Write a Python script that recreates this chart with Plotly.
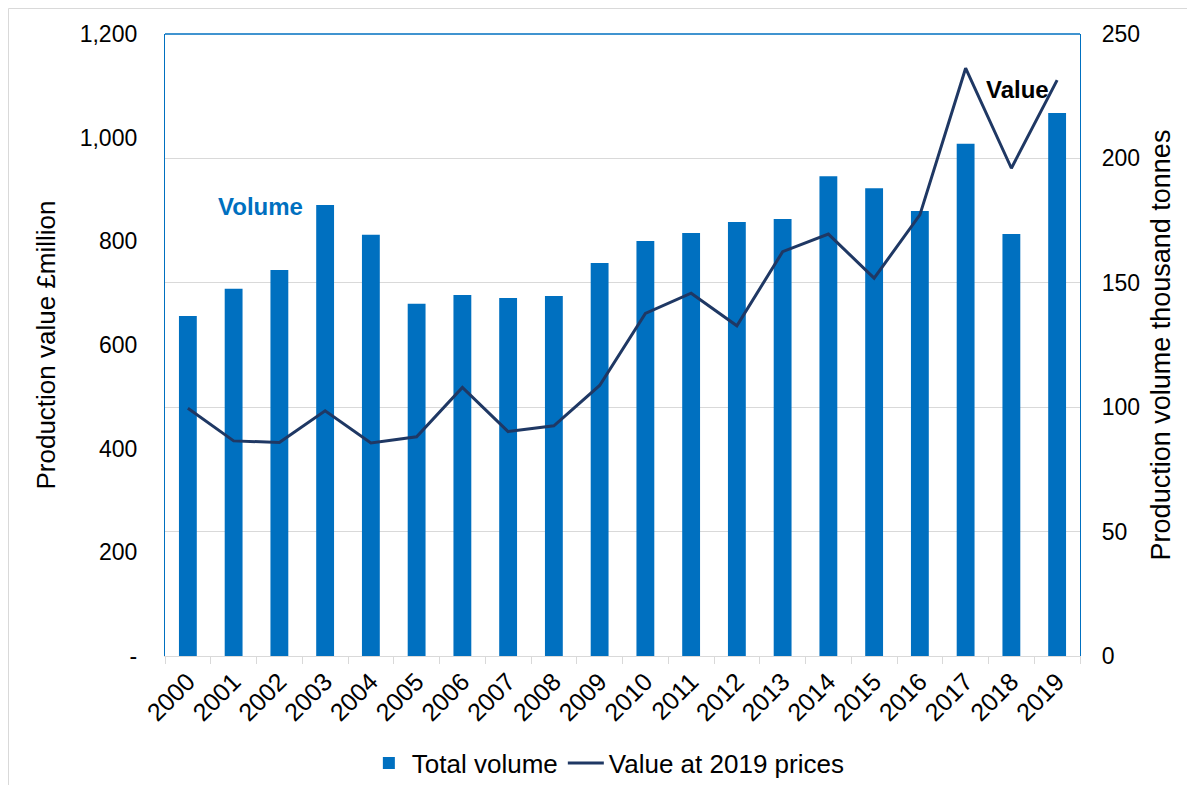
"""Production volume (bars) and value at 2019 prices (line), 2000-2019."""
import plotly.graph_objects as go

YEARS = [str(y) for y in range(2000, 2020)]

# thousand tonnes (right axis)
TOTAL_VOLUME = [
    136.7, 147.6, 155.1, 181.3, 169.3, 141.6, 145.1, 143.9, 144.7, 158.0,
    166.8, 170.0, 174.4, 175.6, 192.8, 188.0, 178.9, 205.9, 169.6, 218.2,
]

# £ million at 2019 prices (left axis)
VALUE_2019_PRICES = [
    478, 415, 412, 473, 411, 423, 518, 433, 444, 522,
    661, 700, 637, 780, 814, 729, 851, 1134, 941, 1111,
]

LEFT_TICKS = [0, 200, 400, 600, 800, 1000, 1200]
LEFT_TICKTEXT = ["-", "200", "400", "600", "800", "1,000", "1,200"]
RIGHT_TICKS = [0, 50, 100, 150, 200, 250]

BAR_BLUE = "#0070C0"
LINE_NAVY = "#1F3864"
GRID = "#d9d9d9"
FONT = "Liberation Sans, Arial, sans-serif"

# page body adds 8px margin, so the figure is 8px smaller than the window
W, H = 1187, 777
ML, MR, MT, MB = 157, 115, 26, 129

fig = go.Figure()

fig.add_trace(
    go.Bar(
        x=YEARS,
        y=TOTAL_VOLUME,
        name="Total volume",
        marker={"color": BAR_BLUE, "line": {"width": 0}},
        yaxis="y",
    )
)
fig.add_trace(
    go.Scatter(
        x=YEARS,
        y=VALUE_2019_PRICES,
        name="Value at 2019 prices",
        mode="lines",
        line={"color": LINE_NAVY, "width": 3},
        yaxis="y2",
    )
)

fig.add_annotation(
    text="<b>Volume</b>", xref="paper", yref="paper", x=0.104, y=0.722,
    xanchor="center", yanchor="middle", showarrow=False,
    font={"size": 24, "color": BAR_BLUE, "family": FONT},
)
fig.add_annotation(
    text="<b>Value</b>", xref="paper", yref="paper", x=0.932, y=0.91,
    xanchor="center", yanchor="middle", showarrow=False,
    font={"size": 24, "color": "#000000", "family": FONT},
)

pw = W - ML - MR
ph = H - MT - MB
# blue top edge of the plot area
fig.add_shape(
    type="line", xref="paper", yref="paper", x0=0, x1=1, y0=1, y1=1,
    line={"color": BAR_BLUE, "width": 1.3},
)
# faint outer chart border
fig.add_shape(
    type="rect", xref="paper", yref="paper",
    x0=-(ML - 0.5) / pw, x1=1 + (MR + 20) / pw,
    y0=-(MB + 20) / ph, y1=1 + (MT - 0.5) / ph,
    line={"color": GRID, "width": 1}, layer="below",
)

fig.update_layout(
    width=W,
    height=H,
    margin={"l": ML, "r": MR, "t": MT, "b": MB, "autoexpand": False},
    paper_bgcolor="#ffffff",
    plot_bgcolor="#ffffff",
    font={"family": FONT, "size": 23, "color": "#000000"},
    bargap=0.61,
    showlegend=True,
    legend={
        "orientation": "h",
        "x": 0.484,
        "xanchor": "center",
        "y": -0.172,
        "yanchor": "middle",
        "font": {"size": 26},
        "traceorder": "normal",
        "itemwidth": 36,
        "tracegroupgap": 0,
    },
    xaxis={
        "type": "category",
        "tickangle": -45,
        "showgrid": False,
        "showline": True,
        "linecolor": GRID,
        "linewidth": 1.3,
        "ticks": "outside",
        "tickson": "boundaries",
        "ticklen": 7,
        "tickcolor": GRID,
        "tickfont": {"size": 25},
    },
    yaxis={
        "side": "right",
        "range": [0, 250],
        "tickvals": RIGHT_TICKS,
        "showgrid": True,
        "gridcolor": GRID,
        "gridwidth": 1.2,
        "showline": True,
        "linecolor": BAR_BLUE,
        "linewidth": 1.3,
        "zeroline": False,
        "ticks": "",
        "ticklabelstandoff": 16,
        "tickfont": {"size": 23},
        "title": {"text": "Production volume thousand tonnes", "font": {"size": 27}, "standoff": 11},
    },
    yaxis2={
        "side": "left",
        "overlaying": "y",
        "range": [0, 1200],
        "tickvals": LEFT_TICKS,
        "ticktext": LEFT_TICKTEXT,
        "showgrid": False,
        "showline": True,
        "linecolor": BAR_BLUE,
        "linewidth": 1.3,
        "zeroline": False,
        "ticks": "",
        "ticklabelstandoff": 22,
        "tickfont": {"size": 23},
        "title": {"text": "Production value £million", "font": {"size": 26}, "standoff": 16},
    },
)

fig.write_html("out.html")
